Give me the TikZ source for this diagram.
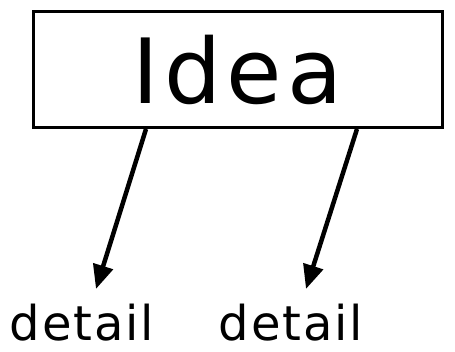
\documentclass[tikz,border=0pt]{standalone}
\usepackage{fontspec}
\setmainfont{DejaVu Sans}
\usetikzlibrary{arrows.meta}
\begin{document}
\begin{tikzpicture}[x=1pt,y=1pt,
  ideabox/.style={draw=black,line width=3pt,minimum width=409pt,minimum height=116pt,inner sep=0pt,
    font=\fontsize{90}{90}\selectfont\addfontfeatures{LetterSpace=6}},
  lbl/.style={inner sep=0pt,text depth=0pt,font=\fontsize{48}{48}\selectfont\addfontfeatures{LetterSpace=4}},
  conn/.style={line width=4.5pt,-{Triangle[length=24pt,width=20pt]}}]
\useasboundingbox (0,0) rectangle (455,-351);
\node[ideabox] (idea) at (237.5,-69.5) {Idea};
\coordinate (s1) at (146,-129);
\coordinate (s2) at (357,-129);
\coordinate (e1) at (96,-289);
\coordinate (e2) at (306,-289);
\node[lbl,anchor=base] (d1) at (82,-340) {detail};
\node[lbl,anchor=base] (d2) at (291,-340) {detail};
\draw[conn] (s1) -- (e1);
\draw[conn] (s2) -- (e2);
\end{tikzpicture}
\end{document}
